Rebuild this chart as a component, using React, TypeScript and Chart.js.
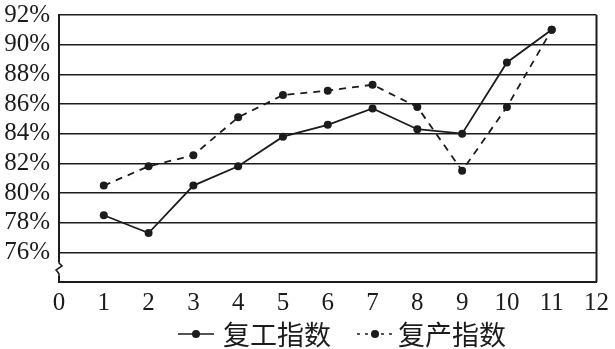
import React, { useEffect, useRef } from 'react';
import { Chart, registerables } from 'chart.js';

Chart.register(...registerables);

const xValues = [1, 2, 3, 4, 5, 6, 7, 8, 9, 10, 11];
const resumeWork = [78.5, 77.3, 80.5, 81.8, 83.8, 84.6, 85.7, 84.3, 84.0, 88.8, 91.0];
const resumeProd = [80.5, 81.8, 82.55, 85.1, 86.6, 86.9, 87.3, 85.8, 81.5, 85.8, 91.0];
const seriesNames = ['复工指数', '复产指数'];
const yMin = 74;
const yMax = 92;
const xMin = 0;
const xMax = 12;

const INK = '#1c1c1c';
const SERIF = '"Liberation Serif", "Times New Roman", Times, serif';
const CJK = '"Noto Sans CJK SC", "Noto Sans", sans-serif';

const framePlugin = {
  id: 'frame',
  afterDraw(chart: any) {
    const { ctx, chartArea } = chart;
    ctx.save();
    ctx.strokeStyle = INK;
    ctx.lineWidth = 2;
    ctx.beginPath();
    ctx.moveTo(chartArea.right, chartArea.top);
    ctx.lineTo(chartArea.right, chartArea.bottom);
    ctx.stroke();

    // axis break symbol on the left axis
    const x = chartArea.left;
    const yb = chartArea.bottom;
    ctx.fillStyle = '#ffffff';
    ctx.fillRect(x - 5, yb - 20, 10, 14);
    ctx.lineWidth = 1.6;
    ctx.beginPath();
    ctx.moveTo(x, yb - 21);
    ctx.lineTo(x, yb - 19);
    ctx.lineTo(x + 3, yb - 16);
    ctx.lineTo(x - 3, yb - 12);
    ctx.quadraticCurveTo(x - 1, yb - 10, x, yb - 8);
    ctx.lineTo(x, yb - 5);
    ctx.stroke();

    // legend
    const cy = 335;
    let lx = chartArea.left + 119;
    chart.data.datasets.forEach((ds: any, i: number) => {
      const w = 36;
      ctx.strokeStyle = INK;
      ctx.lineWidth = 1.6;
      ctx.setLineDash(i === 0 ? [] : [3, 5]);
      ctx.beginPath();
      ctx.moveTo(lx, cy - 1);
      ctx.lineTo(lx + w, cy - 1);
      ctx.stroke();
      ctx.setLineDash([]);
      ctx.fillStyle = INK;
      ctx.beginPath();
      ctx.arc(lx + w / 2, cy - 1, 4, 0, Math.PI * 2);
      ctx.fill();
      ctx.font = '27px ' + CJK;
      ctx.textBaseline = 'middle';
      ctx.textAlign = 'left';
      const tx = lx + w + (i === 0 ? 9 : 5);
      ctx.fillText(ds.label, tx, cy);
      lx = tx + ctx.measureText(ds.label).width + 26;
    });
    ctx.restore();
  },
};

export default function App() {
  const ref = useRef<HTMLCanvasElement>(null);

  useEffect(() => {
    if (!ref.current) return;
    const chart = new Chart(ref.current, {
      type: 'line',
      data: {
        datasets: [
          {
            label: seriesNames[0],
            data: xValues.map((x, i) => ({ x, y: resumeWork[i] })),
            borderColor: INK,
            backgroundColor: INK,
            borderWidth: 1.8,
            pointRadius: 4,
            pointBackgroundColor: INK,
            pointBorderWidth: 0,
            tension: 0,
          },
          {
            label: seriesNames[1],
            data: xValues.map((x, i) => ({ x, y: resumeProd[i] })),
            borderColor: INK,
            backgroundColor: INK,
            borderWidth: 1.8,
            borderDash: [7, 6],
            pointRadius: 4,
            pointBackgroundColor: INK,
            pointBorderWidth: 0,
            tension: 0,
          },
        ],
      },
      options: {
        animation: false,
        responsive: true,
        maintainAspectRatio: false,
        layout: { padding: { top: 15, right: 0, left: 0, bottom: 37 } },
        scales: {
          x: {
            type: 'linear',
            min: xMin,
            max: xMax,
            afterFit: (scale: any) => {
              scale.height = 30;
            },
            ticks: {
              stepSize: 1,
              autoSkip: false,
              maxRotation: 0,
              color: INK,
              padding: 6,
              font: { family: SERIF, size: 25 },
            },
            grid: { display: false, drawTicks: false },
            border: { display: true, color: INK, width: 2 },
          },
          y: {
            min: yMin,
            max: yMax,
            afterFit: (scale: any) => {
              scale.width = 59;
              scale.paddingTop = 0;
              scale.paddingBottom = 0;
            },
            ticks: {
              stepSize: 2,
              autoSkip: false,
              color: INK,
              padding: 9,
              font: { family: SERIF, size: 25 },
              callback: (v: any) => (v === yMin ? '' : v + '%'),
            },
            grid: {
              color: INK,
              lineWidth: 1.6,
              drawTicks: false,
            },
            border: { display: true, color: INK, width: 2 },
          },
        },
        plugins: {
          tooltip: { enabled: false },
          legend: { display: false },
        },
      },
      plugins: [framePlugin],
    });
    return () => chart.destroy();
  }, []);

  return (
    <div style={{ position: 'absolute', left: 0, top: 0, width: 615, height: 349, background: '#fff' }}>
      <canvas ref={ref} />
    </div>
  );
}
